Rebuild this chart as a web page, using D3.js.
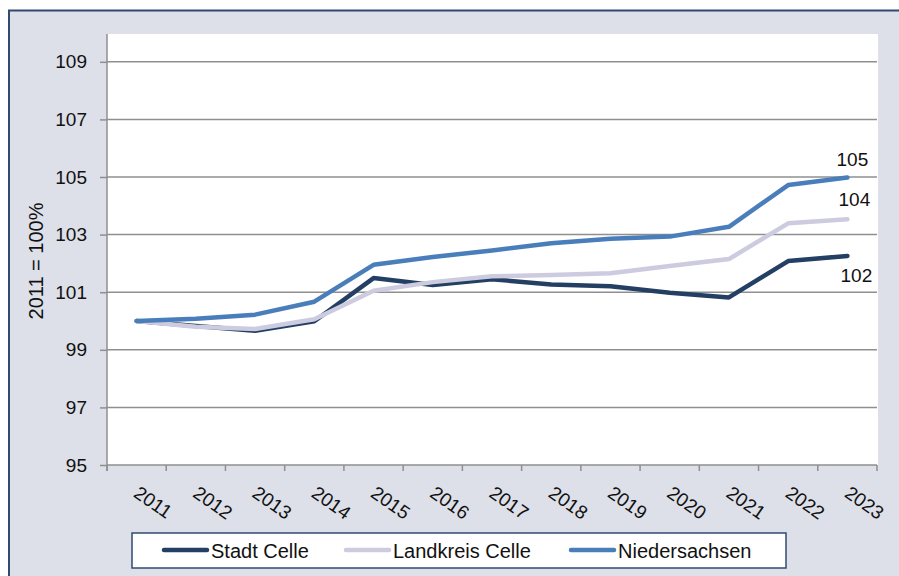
<!DOCTYPE html>
<html>
<head>
<meta charset="utf-8">
<script src="https://cdn.jsdelivr.net/npm/d3@7"></script>
<style>
  html, body { margin: 0; padding: 0; background: #ffffff; }
  svg { display: block; font-family: "Liberation Sans", Arial, sans-serif; }
</style>
</head>
<body>
<svg id="chart" width="899" height="576"></svg>
<script>
// Index of development, 2011 = 100%
const years = ["2011","2012","2013","2014","2015","2016","2017","2018","2019","2020","2021","2022","2023"];
const stadtCelle     = [100, 99.83, 99.66, 99.99, 101.49, 101.25, 101.45, 101.27, 101.21, 100.98, 100.82, 102.08, 102.26];
const landkreisCelle = [100, 99.80, 99.72, 100.06, 101.05, 101.35, 101.55, 101.60, 101.66, 101.91, 102.15, 103.39, 103.53];
const niedersachsen  = [100, 100.08, 100.22, 100.67, 101.95, 102.22, 102.45, 102.70, 102.86, 102.93, 103.27, 104.72, 104.98];
const seriesNames  = ["Stadt Celle", "Landkreis Celle", "Niedersachsen"];
const seriesColors = ["#233f63", "#cccbdf", "#4a7ebb"];
const yTicks = [95, 97, 99, 101, 103, 105, 107, 109];
const endLabels = ["102", "104", "105"];
const yTitle = "2011 = 100%";

const series = [stadtCelle, landkreisCelle, niedersachsen];

const svg = d3.select("#chart");
const W = 899, H = 576;

// panel background with navy frame
svg.append("rect").attr("x", 0).attr("y", 0).attr("width", W).attr("height", H).attr("fill", "#ffffff");
svg.append("rect")
  .attr("x", 9).attr("y", 10.5).attr("width", W + 10).attr("height", H + 10)
  .attr("fill", "#dde0e8").attr("stroke", "#2f4b70").attr("stroke-width", 2);

const plot = { left: 107, right: 878, top: 34, bottom: 465 };

const x = d3.scaleBand().domain(years).range([plot.left, plot.right - 1]).paddingInner(0).paddingOuter(0);
const y = d3.scaleLinear().domain([95, 110]).range([plot.bottom, plot.bottom - 15 * 28.8]);

// white plot area
svg.append("rect")
  .attr("x", plot.left).attr("y", plot.top)
  .attr("width", plot.right - plot.left).attr("height", plot.bottom - plot.top)
  .attr("fill", "#ffffff");

const gridColor = "#8f8f8f";

// horizontal gridlines
svg.append("g").selectAll("line").data(yTicks.filter(v => v !== 95)).join("line")
  .attr("x1", plot.left).attr("x2", plot.right - 1)
  .attr("y1", d => y(d)).attr("y2", d => y(d))
  .attr("stroke", gridColor).attr("stroke-width", 1.5);

// y axis
const yAxis = d3.axisLeft(y).tickValues(yTicks).tickSize(7).tickPadding(13).tickFormat(d3.format("d"));
const gy = svg.append("g").attr("transform", `translate(${plot.left},0)`).call(yAxis);
gy.select(".domain").remove();
gy.append("line").attr("x1", 0).attr("x2", 0).attr("y1", plot.top).attr("y2", plot.bottom + 6)
  .attr("stroke", gridColor).attr("stroke-width", 1.5);
gy.selectAll(".tick line").attr("stroke", gridColor).attr("stroke-width", 1.5);
gy.selectAll(".tick text").attr("fill", "#111").attr("font-size", 19)
  .attr("font-family", "Liberation Sans, Arial, sans-serif");

// x axis: ticks at category boundaries
const gx = svg.append("g").attr("transform", `translate(0,${plot.bottom})`);
gx.append("line").attr("x1", plot.left).attr("x2", plot.right - 1).attr("y1", 0).attr("y2", 0)
  .attr("stroke", gridColor).attr("stroke-width", 1.5);
const boundaries = years.map(d => x(d)).concat([x(years[years.length - 1]) + x.bandwidth()]);
gx.selectAll("line.tk").data(boundaries).join("line").attr("class", "tk")
  .attr("x1", d => d).attr("x2", d => d).attr("y1", 0).attr("y2", 6)
  .attr("stroke", gridColor).attr("stroke-width", 1.5);
gx.selectAll("text").data(years).join("text")
  .attr("transform", d => `translate(${x(d) + x.bandwidth() / 2 - 4},${31}) rotate(35)`)
  .attr("font-size", 19).attr("fill", "#111")
  .text(d => d);

// y axis title
svg.append("text")
  .attr("transform", `translate(43,${261}) rotate(-90)`)
  .attr("text-anchor", "middle").attr("font-size", 20).attr("fill", "#111")
  .text(yTitle);

// lines
const line = d3.line()
  .x((d, i) => x(years[i]) + x.bandwidth() / 2)
  .y(d => y(d));

svg.append("g").selectAll("path").data(series).join("path")
  .attr("d", d => line(d))
  .attr("fill", "none")
  .attr("stroke", (d, i) => seriesColors[i])
  .attr("stroke-width", 4.5)
  .attr("stroke-linejoin", "round")
  .attr("stroke-linecap", "round");

// end-of-line value labels
const lastX = x(years[years.length - 1]) + x.bandwidth() / 2;
const labelOffsets = [{ dx: 9, dy: 26 }, { dx: 7, dy: -13 }, { dx: 5, dy: -12 }];
series.forEach((s, i) => {
  svg.append("text")
    .attr("x", lastX + labelOffsets[i].dx)
    .attr("y", y(s[s.length - 1]) + labelOffsets[i].dy)
    .attr("text-anchor", "middle").attr("font-size", 19).attr("fill", "#111")
    .text(endLabels[i]);
});

// legend
const lg = svg.append("g");
lg.append("rect").attr("x", 132).attr("y", 533).attr("width", 654).attr("height", 35)
  .attr("fill", "#ffffff").attr("stroke", "#2f4b70").attr("stroke-width", 1.5);
const legendX = [164, 346, 571];
seriesNames.forEach((name, i) => {
  lg.append("line").attr("x1", legendX[i]).attr("x2", legendX[i] + 43)
    .attr("y1", 550).attr("y2", 550)
    .attr("stroke", seriesColors[i]).attr("stroke-width", 4.5).attr("stroke-linecap", "round");
  lg.append("text").attr("x", legendX[i] + 47).attr("y", 558)
    .attr("font-size", 20).attr("fill", "#111").text(name);
});
</script>
</body>
</html>
